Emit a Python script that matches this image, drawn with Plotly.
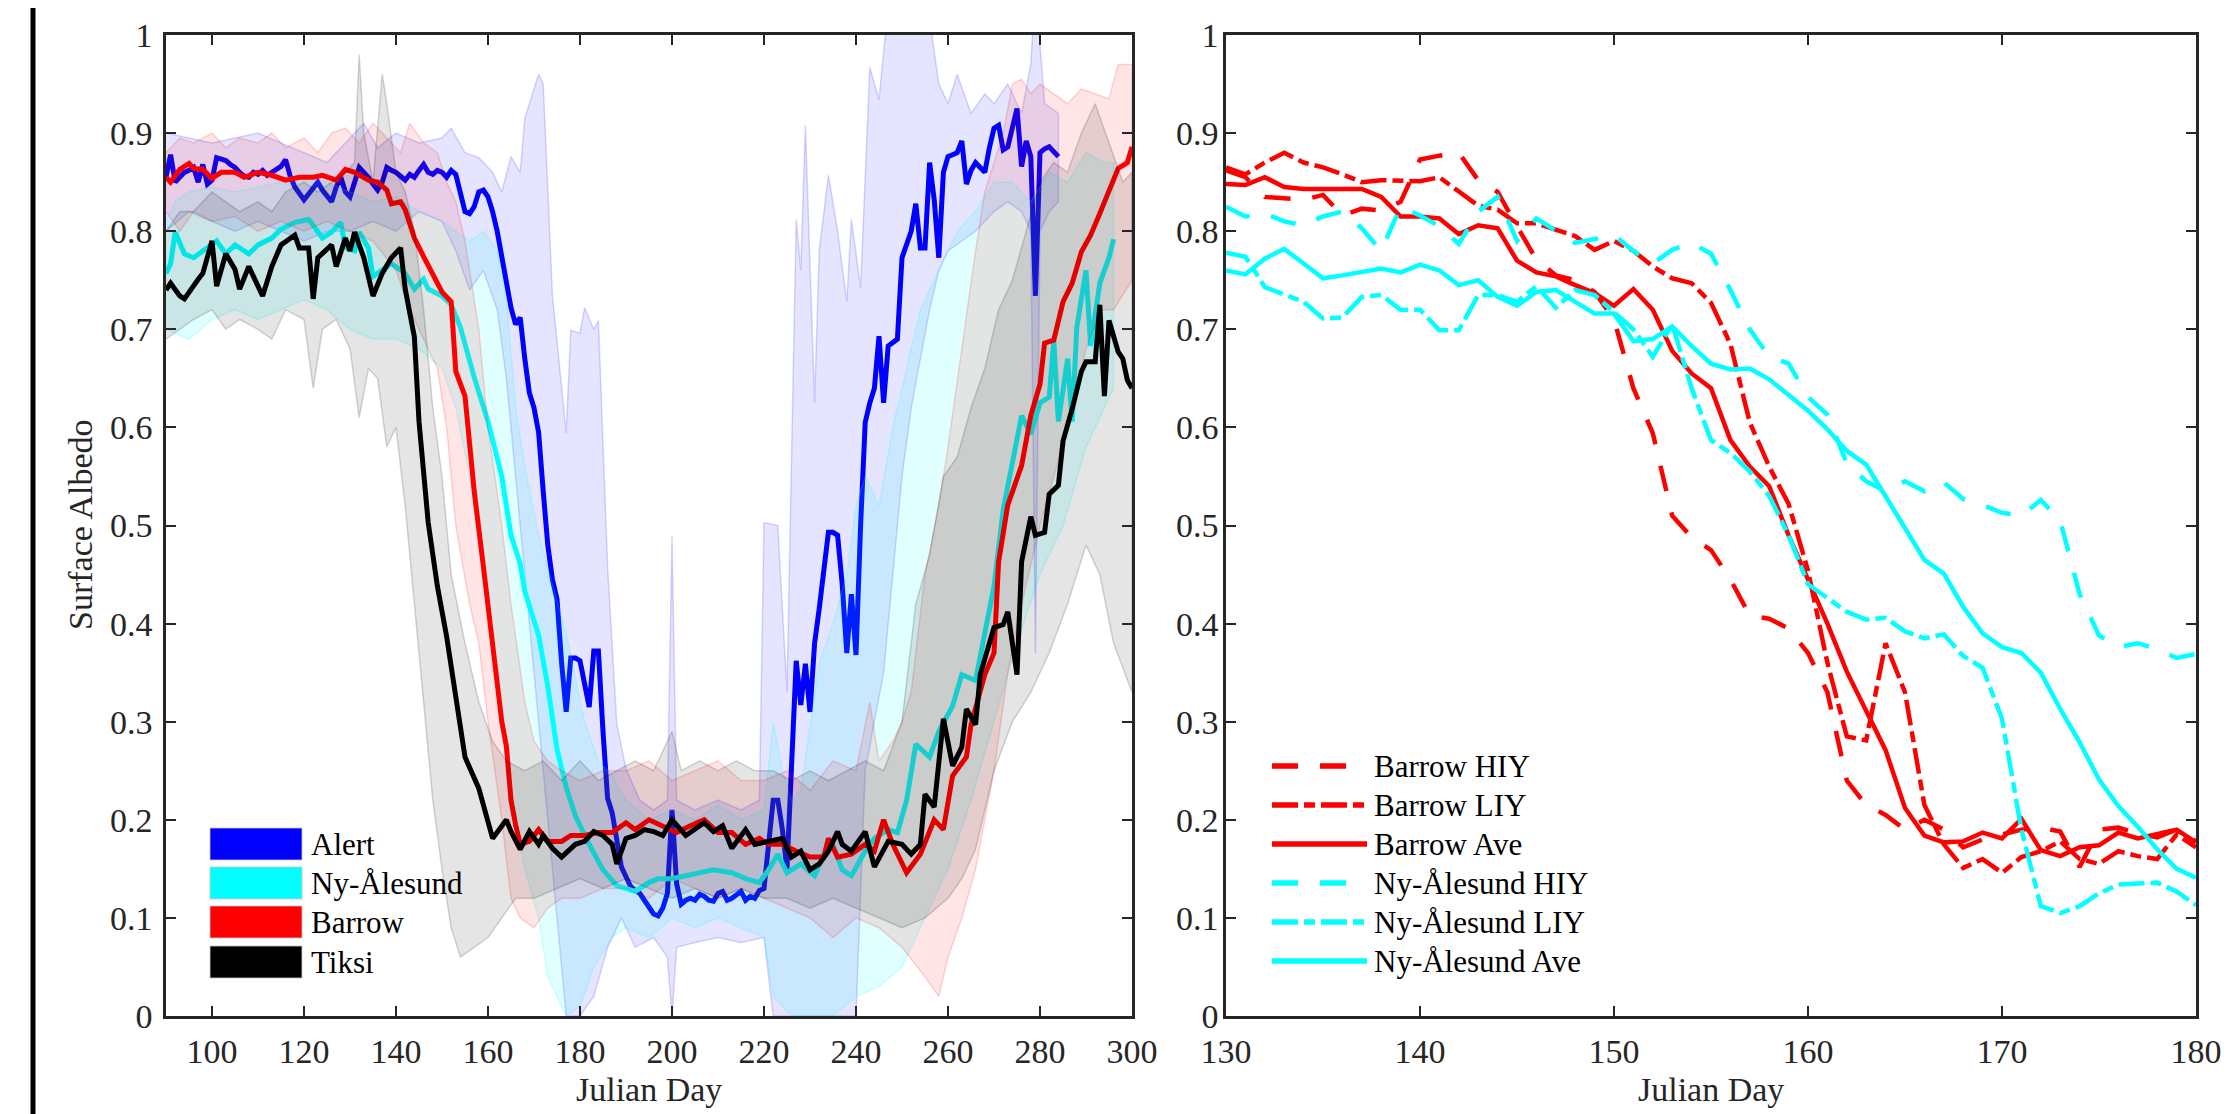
import plotly.graph_objects as go

# ---------------- LEFT PANEL DATA ----------------
alert_day = list(range(90, 285))
alert_mean = [
    0.855, 0.878, 0.850, 0.855, 0.860, 0.862, 0.865, 0.850, 0.868, 0.848,
    0.852, 0.875, 0.874, 0.872, 0.868, 0.865, 0.860, 0.856, 0.855, 0.860,
    0.858, 0.862, 0.857, 0.860, 0.862, 0.866, 0.873, 0.856, 0.845, 0.838,
    0.832, 0.838, 0.845, 0.850, 0.842, 0.835, 0.830, 0.845, 0.855, 0.840,
    0.835, 0.850, 0.865, 0.860, 0.855, 0.848, 0.842, 0.850, 0.865, 0.862,
    0.860, 0.856, 0.852, 0.858, 0.855, 0.862, 0.868, 0.860, 0.858, 0.862,
    0.860, 0.855, 0.862, 0.858, 0.838, 0.820, 0.818, 0.825, 0.840, 0.842,
    0.835, 0.820, 0.800, 0.775, 0.745, 0.722, 0.705, 0.712, 0.670, 0.635,
    0.620, 0.595, 0.535, 0.480, 0.445, 0.425, 0.360, 0.310, 0.365, 0.365,
    0.362, 0.340, 0.315, 0.372, 0.372, 0.290, 0.222, 0.207, 0.180, 0.152,
    0.142, 0.132, 0.128, 0.125, 0.118, 0.112, 0.104, 0.102, 0.110, 0.125,
    0.210, 0.135, 0.114, 0.118, 0.120, 0.118, 0.124, 0.122, 0.118, 0.117,
    0.125, 0.127, 0.118, 0.120, 0.124, 0.127, 0.118, 0.122, 0.120, 0.128,
    0.130, 0.180, 0.220, 0.220, 0.190, 0.150, 0.250, 0.362, 0.317, 0.359,
    0.310, 0.380, 0.415, 0.450, 0.493, 0.493, 0.490, 0.440, 0.370, 0.430,
    0.368, 0.500, 0.605, 0.625, 0.640, 0.693, 0.625, 0.683, 0.686, 0.690,
    0.773, 0.786, 0.800, 0.828, 0.783, 0.783, 0.870, 0.832, 0.773, 0.860,
    0.876, 0.878, 0.880, 0.892, 0.848, 0.862, 0.870, 0.865, 0.860, 0.885,
    0.905, 0.908, 0.883, 0.886, 0.905, 0.925, 0.866, 0.892, 0.876, 0.734,
    0.880, 0.884, 0.886, 0.880, 0.876,
]
alert_hi_day = [90, 95, 100, 105, 110, 115, 120, 125, 130, 133, 136, 140, 145, 150, 152, 155, 158,
                161, 163, 165, 167, 168, 171, 172, 174, 177, 178, 180, 181, 183, 184, 186, 188,
                190, 193, 196, 199, 200, 201, 205, 210, 215, 219, 220, 223, 225, 227, 228, 229,
                231, 232, 234, 236, 238, 239, 241, 243, 245, 247, 250, 255, 258, 260, 262, 265,
                268, 270, 273, 276, 278, 279, 281, 284]
alert_hi = [0.90, 0.895, 0.89, 0.895, 0.90, 0.89, 0.88, 0.87, 0.895, 0.91, 0.885, 0.90, 0.89, 0.895,
            0.905, 0.88, 0.875, 0.86, 0.84, 0.876, 0.86, 0.915, 0.96, 0.95, 0.735, 0.594, 0.699,
            0.696, 0.722, 0.70, 0.709, 0.458, 0.297, 0.252, 0.22, 0.21, 0.22, 0.49, 0.22, 0.21,
            0.22, 0.21, 0.22, 0.503, 0.50, 0.33, 0.812, 0.76, 0.908, 0.625, 0.78, 0.857, 0.80,
            0.728, 0.812, 0.742, 0.967, 0.934, 1.03, 1.05, 1.05, 0.95, 0.93, 0.96, 0.92, 0.94,
            0.93, 0.95, 0.92, 0.97, 1.05, 0.93, 0.92]
alert_lo_day = [90, 95, 100, 105, 110, 115, 120, 125, 130, 135, 140, 145, 150, 153, 156, 159, 162,
                164, 166, 168, 170, 172, 174, 176, 177, 180, 183, 186, 189, 192, 196, 199, 200,
                201, 205, 210, 215, 220, 222, 240, 242, 244, 246, 248, 250, 252, 254, 256, 258,
                260, 263, 266, 270, 273, 276, 278, 279, 280, 282, 284]
alert_lo = [0.80, 0.82, 0.81, 0.80, 0.81, 0.80, 0.79, 0.80, 0.80, 0.81, 0.80, 0.82, 0.81, 0.78,
            0.74, 0.76, 0.72, 0.65, 0.55, 0.45, 0.35, 0.25, 0.15, 0.05, 0.0, 0.0, 0.02, 0.07,
            0.10, 0.07, 0.08, 0.06, 0.0, 0.07, 0.075, 0.08, 0.075, 0.08, 0.0, 0.0, 0.25, 0.30,
            0.35, 0.45, 0.55, 0.62, 0.67, 0.72, 0.76, 0.78, 0.79, 0.80, 0.82, 0.83, 0.82, 0.80,
            0.37, 0.80, 0.82, 0.83]

nya_day = [90, 91, 92, 94, 96, 98, 101, 103, 105, 108, 110, 113, 115, 118, 121, 122, 124, 126,
           128, 129, 131, 132, 134, 135, 137, 139, 142, 144, 146, 147, 150, 152, 154, 157, 160,
           163, 165, 167, 168, 171, 173, 175, 177, 179, 182, 185, 188, 190, 192, 195, 197, 200,
           203, 206, 209, 213, 216, 219, 221, 223, 225, 228, 231, 233, 235, 237, 239, 242, 244,
           247, 249, 251, 253, 256, 258, 261, 263, 266, 268, 270, 272, 274, 276, 278, 280, 282,
           283, 284, 286, 287, 288, 290, 291, 293, 295, 296]
nya_mean = [0.757, 0.767, 0.799, 0.777, 0.773, 0.780, 0.790, 0.777, 0.786, 0.777, 0.786, 0.793,
            0.802, 0.809, 0.812, 0.806, 0.793, 0.799, 0.809, 0.783, 0.780, 0.799, 0.783, 0.754,
            0.761, 0.767, 0.757, 0.741, 0.751, 0.741, 0.734, 0.725, 0.702, 0.651, 0.606, 0.550,
            0.490, 0.461, 0.433, 0.388, 0.336, 0.272, 0.233, 0.204, 0.175, 0.149, 0.133, 0.130,
            0.127, 0.136, 0.140, 0.140, 0.143, 0.146, 0.149, 0.146, 0.140, 0.136, 0.149, 0.165,
            0.146, 0.155, 0.143, 0.165, 0.175, 0.149, 0.143, 0.168, 0.181, 0.190, 0.187, 0.220,
            0.277, 0.264, 0.290, 0.316, 0.348, 0.342, 0.393, 0.438, 0.516, 0.567, 0.612, 0.593,
            0.625, 0.631, 0.689, 0.606, 0.670, 0.606, 0.702, 0.760, 0.683, 0.747, 0.773, 0.792]
nya_hi_day = [90, 92, 95, 100, 105, 110, 115, 120, 125, 130, 135, 140, 145, 150, 153, 156, 159,
              162, 164, 166, 168, 171, 174, 177, 181, 184, 187, 190, 195, 200, 205, 210, 215, 220,
              222, 224, 226, 228, 232, 235, 238, 240, 242, 245, 248, 251, 254, 258, 262, 266, 270,
              274, 278, 282, 286, 290, 294, 296]
nya_hi = [0.81, 0.83, 0.84, 0.845, 0.84, 0.845, 0.85, 0.855, 0.85, 0.84, 0.83, 0.835, 0.82, 0.81,
          0.80, 0.79, 0.80, 0.78, 0.73, 0.62, 0.56, 0.49, 0.44, 0.39, 0.30, 0.26, 0.245, 0.22,
          0.20, 0.21, 0.20, 0.215, 0.20, 0.21, 0.30, 0.25, 0.22, 0.23, 0.36, 0.40, 0.45, 0.52,
          0.55, 0.52, 0.60, 0.66, 0.72, 0.76, 0.80, 0.82, 0.85, 0.85, 0.83, 0.86, 0.85, 0.88,
          0.87, 0.87]
nya_lo_day = [90, 95, 100, 105, 110, 115, 120, 125, 130, 135, 140, 145, 150, 153, 156, 159, 162,
              165, 168, 171, 173, 177, 180, 183, 187, 190, 195, 200, 205, 210, 215, 220, 222, 226,
              235, 240, 245, 250, 255, 260, 265, 270, 275, 280, 285, 290, 294, 296]
nya_lo = [0.70, 0.69, 0.71, 0.72, 0.71, 0.72, 0.73, 0.72, 0.70, 0.69, 0.69, 0.68, 0.66, 0.62, 0.55,
          0.45, 0.33, 0.22, 0.15, 0.10, 0.04, 0.0, 0.01, 0.05, 0.08, 0.09, 0.08, 0.10, 0.09, 0.10,
          0.09, 0.08, 0.02, 0.0, 0.0, 0.02, 0.03, 0.05, 0.10, 0.15, 0.22, 0.30, 0.38, 0.45, 0.50,
          0.58, 0.62, 0.64]

brw_day = [90, 91, 93, 95, 96, 98, 100, 102, 105, 107, 110, 113, 116, 119, 122, 124, 127, 129,
           131, 134, 136, 138, 139, 141, 142, 144, 146, 148, 150, 152, 153, 155, 157, 159, 161,
           163, 164, 165, 166, 167, 169, 171, 173, 176, 178, 181, 184, 187, 190, 192, 195, 198,
           201, 204, 207, 210, 213, 216, 219, 221, 224, 227, 230, 233, 234, 236, 239, 242, 244,
           246, 248, 251, 254, 257, 259, 261, 264, 265, 268, 270, 271, 273, 276, 278, 280, 281,
           283, 285, 287, 289, 291, 293, 295, 297, 299, 300]
brw_mean = [0.855, 0.850, 0.863, 0.869, 0.864, 0.863, 0.854, 0.860, 0.860, 0.855, 0.860, 0.857,
            0.852, 0.855, 0.855, 0.857, 0.852, 0.863, 0.860, 0.852, 0.850, 0.842, 0.828, 0.830,
            0.822, 0.793, 0.774, 0.757, 0.738, 0.728, 0.657, 0.632, 0.535, 0.458, 0.375, 0.300,
            0.275, 0.220, 0.195, 0.175, 0.178, 0.190, 0.178, 0.178, 0.184, 0.184, 0.187, 0.187,
            0.197, 0.190, 0.200, 0.194, 0.187, 0.194, 0.200, 0.187, 0.187, 0.175, 0.181, 0.175,
            0.175, 0.168, 0.162, 0.162, 0.181, 0.162, 0.165, 0.175, 0.168, 0.200, 0.175, 0.146,
            0.165, 0.200, 0.190, 0.245, 0.264, 0.297, 0.348, 0.370, 0.463, 0.521, 0.561, 0.612,
            0.644, 0.686, 0.689, 0.728, 0.747, 0.779, 0.796, 0.818, 0.841, 0.864, 0.870, 0.886]
brw_hi_day = [90, 93, 96, 100, 103, 106, 110, 113, 116, 120, 123, 126, 129, 132, 135, 138, 141,
              143, 146, 149, 151, 153, 155, 158, 160, 163, 165, 168, 170, 173, 176, 180, 185, 190,
              195, 200, 205, 210, 215, 220, 225, 230, 235, 240, 243, 245, 248, 250, 252, 255, 258,
              260, 263, 266, 268, 270, 272, 274, 276, 278, 280, 283, 286, 289, 292, 295, 297, 300]
brw_hi = [0.88, 0.895, 0.89, 0.90, 0.885, 0.895, 0.89, 0.90, 0.885, 0.895, 0.88, 0.90, 0.905,
          0.89, 0.91, 0.895, 0.88, 0.91, 0.89, 0.88, 0.85, 0.83, 0.79, 0.70, 0.60, 0.50, 0.42,
          0.32, 0.28, 0.26, 0.25, 0.24, 0.25, 0.25, 0.26, 0.24, 0.25, 0.26, 0.24, 0.24, 0.25,
          0.23, 0.26, 0.25, 0.32, 0.26, 0.28, 0.30, 0.33, 0.45, 0.52, 0.58, 0.68, 0.78, 0.84,
          0.87, 0.90, 0.95, 0.955, 0.94, 0.95, 0.94, 0.93, 0.945, 0.94, 0.935, 0.97, 0.97]
brw_lo_day = [90, 93, 96, 100, 105, 110, 115, 120, 125, 130, 135, 140, 143, 146, 149, 151, 153,
              156, 158, 160, 163, 165, 167, 170, 173, 176, 180, 185, 190, 195, 200, 205, 210, 215,
              220, 225, 230, 235, 240, 245, 250, 255, 258, 260, 263, 266, 270, 273, 276, 280, 283,
              286, 290, 293, 296, 300]
brw_lo = [0.82, 0.80, 0.82, 0.81, 0.815, 0.80, 0.81, 0.80, 0.81, 0.80, 0.79, 0.76, 0.72, 0.69,
          0.66, 0.60, 0.50, 0.42, 0.38, 0.30, 0.20, 0.12, 0.10, 0.09, 0.11, 0.12, 0.12, 0.13,
          0.13, 0.12, 0.14, 0.13, 0.12, 0.13, 0.12, 0.11, 0.10, 0.08, 0.10, 0.09, 0.07, 0.04,
          0.02, 0.06, 0.10, 0.15, 0.25, 0.35, 0.42, 0.50, 0.55, 0.60, 0.68, 0.72, 0.72, 0.75]

tik_day = [90, 91, 93, 94, 97, 98, 100, 101, 103, 105, 106, 108, 110, 111, 113, 115, 118, 119,
           121, 122, 123, 126, 127, 129, 130, 131, 133, 135, 137, 139, 141, 142, 144, 145, 147,
           149, 151, 153, 155, 158, 160, 161, 164, 165, 167, 169, 171, 172, 174, 176, 179, 181,
           183, 185, 187, 188, 190, 192, 194, 196, 198, 200, 203, 205, 207, 209, 211, 213, 216,
           218, 221, 224, 226, 228, 230, 232, 234, 236, 237, 239, 242, 244, 247, 250, 252, 254,
           255, 257, 259, 261, 263, 264, 266, 267, 268, 270, 272, 273, 275, 276, 278, 279, 281,
           282, 284, 285, 287, 289, 290, 292, 293, 294, 295, 297, 298, 299, 300]
tik_mean = [0.740, 0.747, 0.734, 0.731, 0.751, 0.757, 0.790, 0.744, 0.777, 0.761, 0.741, 0.764,
            0.744, 0.734, 0.764, 0.786, 0.796, 0.783, 0.783, 0.731, 0.773, 0.786, 0.764, 0.793,
            0.780, 0.799, 0.773, 0.734, 0.757, 0.773, 0.783, 0.741, 0.692, 0.606, 0.503, 0.438,
            0.387, 0.329, 0.264, 0.232, 0.200, 0.181, 0.200, 0.188, 0.170, 0.188, 0.175, 0.184,
            0.171, 0.162, 0.175, 0.178, 0.188, 0.184, 0.175, 0.155, 0.181, 0.184, 0.190, 0.188,
            0.184, 0.200, 0.184, 0.190, 0.197, 0.188, 0.194, 0.171, 0.190, 0.175, 0.178, 0.181,
            0.162, 0.168, 0.149, 0.155, 0.168, 0.188, 0.175, 0.168, 0.188, 0.152, 0.178, 0.175,
            0.165, 0.175, 0.226, 0.213, 0.303, 0.255, 0.274, 0.313, 0.297, 0.348, 0.364, 0.396,
            0.399, 0.412, 0.348, 0.463, 0.509, 0.490, 0.493, 0.532, 0.541, 0.586, 0.619, 0.657,
            0.667, 0.667, 0.725, 0.632, 0.709, 0.677, 0.670, 0.648, 0.640]
tik_hi_day = [90, 93, 96, 100, 103, 106, 110, 113, 116, 120, 123, 126, 129, 131, 132, 133, 135,
              137, 138, 140, 142, 144, 146, 148, 150, 152, 155, 158, 161, 164, 168, 172, 176, 180,
              184, 188, 192, 196, 200, 202, 206, 210, 214, 218, 222, 226, 230, 234, 238, 242, 246,
              250, 253, 256, 259, 262, 265, 268, 271, 274, 277, 280, 283, 286, 289, 292, 295, 298,
              300]
tik_hi = [0.80, 0.82, 0.82, 0.84, 0.83, 0.82, 0.83, 0.82, 0.84, 0.85, 0.84, 0.85, 0.86, 0.87,
          0.98, 0.90, 0.85, 0.96, 0.93, 0.86, 0.84, 0.80, 0.72, 0.62, 0.55, 0.45, 0.38, 0.32,
          0.28, 0.26, 0.25, 0.26, 0.24, 0.26, 0.24, 0.25, 0.26, 0.25, 0.29, 0.25, 0.26, 0.25,
          0.26, 0.25, 0.25, 0.24, 0.25, 0.24, 0.25, 0.26, 0.25, 0.30, 0.42, 0.47, 0.55, 0.57,
          0.62, 0.66, 0.72, 0.75, 0.80, 0.85, 0.87, 0.86, 0.90, 0.93, 0.89, 0.85, 0.86]
tik_lo_day = [90, 93, 96, 100, 103, 106, 110, 113, 116, 120, 122, 124, 127, 130, 132, 134, 136,
              138, 140, 142, 144, 146, 148, 150, 152, 154, 157, 160, 163, 166, 170, 175, 180, 185,
              190, 195, 200, 205, 210, 215, 220, 225, 230, 235, 240, 245, 250, 255, 260, 263, 266,
              270, 274, 278, 282, 286, 290, 293, 296, 300]
tik_lo = [0.69, 0.70, 0.71, 0.72, 0.70, 0.71, 0.70, 0.69, 0.72, 0.71, 0.64, 0.70, 0.71, 0.68,
          0.61, 0.66, 0.65, 0.58, 0.60, 0.52, 0.42, 0.32, 0.22, 0.15, 0.09, 0.06, 0.07, 0.08,
          0.10, 0.12, 0.12, 0.13, 0.14, 0.13, 0.14, 0.13, 0.12, 0.13, 0.12, 0.13, 0.12, 0.12,
          0.11, 0.12, 0.11, 0.10, 0.09, 0.10, 0.12, 0.14, 0.17, 0.25, 0.30, 0.33, 0.37, 0.42,
          0.48, 0.45, 0.38, 0.33]

# ---------------- RIGHT PANEL DATA ----------------
r_day = list(range(130, 181))
brw_hiy = [0.862, 0.855, 0.835, 0.833, 0.832, 0.837, 0.816, 0.823, 0.821, 0.830,
           0.873, 0.877, 0.880, 0.852, 0.840, 0.805, 0.771, 0.755, 0.750, 0.738,
           0.710, 0.640, 0.594, 0.510, 0.488, 0.475, 0.445, 0.408, 0.405, 0.395,
           0.370, 0.330, 0.240, 0.215, 0.205, 0.190, 0.200, 0.190, 0.172, 0.180,
           0.185, 0.190, 0.192, 0.188, 0.152, 0.190, 0.192, 0.186, 0.182, 0.190,
           0.178]
brw_liy = [0.865, 0.858, 0.870, 0.880, 0.870, 0.865, 0.858, 0.850, 0.852, 0.851,
           0.851, 0.855, 0.840, 0.826, 0.822, 0.808, 0.808, 0.802, 0.795, 0.781,
           0.790, 0.780, 0.764, 0.752, 0.747, 0.727, 0.685, 0.605, 0.560, 0.522,
           0.454, 0.360, 0.285, 0.281, 0.380, 0.330, 0.215, 0.175, 0.151, 0.160,
           0.146, 0.162, 0.168, 0.178, 0.160, 0.155, 0.168, 0.163, 0.160, 0.185,
           0.172]
brw_ave = [0.848, 0.847, 0.855, 0.845, 0.843, 0.843, 0.843, 0.843, 0.835, 0.815,
           0.815, 0.813, 0.797, 0.806, 0.803, 0.770, 0.758, 0.754, 0.745, 0.737,
           0.724, 0.741, 0.720, 0.678, 0.655, 0.640, 0.587, 0.560, 0.540, 0.490,
           0.445, 0.400, 0.351, 0.310, 0.271, 0.212, 0.184, 0.177, 0.178, 0.187,
           0.181, 0.201, 0.169, 0.163, 0.172, 0.174, 0.187, 0.181, 0.186, 0.190,
           0.177]
nya_hiy = [0.825, 0.815, 0.818, 0.810, 0.806, 0.815, 0.820, 0.803, 0.780, 0.825,
           0.816, 0.805, 0.787, 0.820, 0.835, 0.790, 0.813, 0.800, 0.788, 0.792,
           0.796, 0.780, 0.767, 0.781, 0.788, 0.777, 0.740, 0.700, 0.672, 0.665,
           0.631, 0.613, 0.563, 0.545, 0.535, 0.545, 0.535, 0.544, 0.527, 0.521,
           0.513, 0.510, 0.526, 0.505, 0.430, 0.388, 0.376, 0.380, 0.374, 0.365,
           0.369]
nya_liy = [0.778, 0.774, 0.743, 0.735, 0.728, 0.711, 0.712, 0.733, 0.735, 0.720,
           0.720, 0.699, 0.699, 0.735, 0.735, 0.728, 0.744, 0.722, 0.740, 0.735,
           0.718, 0.700, 0.672, 0.705, 0.640, 0.587, 0.574, 0.555, 0.530, 0.490,
           0.440, 0.426, 0.412, 0.404, 0.406, 0.392, 0.385, 0.389, 0.367, 0.355,
           0.303, 0.190, 0.112, 0.105, 0.112, 0.125, 0.134, 0.135, 0.136, 0.127,
           0.113]
nya_ave = [0.760, 0.756, 0.772, 0.782, 0.767, 0.752, 0.755, 0.758, 0.762, 0.758,
           0.766, 0.760, 0.745, 0.750, 0.733, 0.724, 0.738, 0.740, 0.728, 0.716,
           0.716, 0.688, 0.690, 0.703, 0.683, 0.665, 0.659, 0.660, 0.649, 0.633,
           0.617, 0.598, 0.576, 0.562, 0.530, 0.497, 0.465, 0.451, 0.417, 0.390,
           0.376, 0.370, 0.350, 0.313, 0.279, 0.241, 0.214, 0.193, 0.170, 0.150,
           0.141]

left_legend_labels = ["Alert", "Ny-Ålesund", "Barrow", "Tiksi"]
right_legend_labels = ["Barrow HIY", "Barrow LIY", "Barrow Ave",
                       "Ny-Ålesund HIY", "Ny-Ålesund LIY", "Ny-Ålesund Ave"]
left_xticks = list(range(100, 301, 20))
right_xticks = list(range(130, 181, 10))

# ---------------- STYLE ----------------
W, H = 2233, 1114
OFF = 8  # page body margin: figure is drawn 8px in from the page corner
FONT = "Liberation Serif"
AX = "#262626"
DASH = "26px,22px"
DASHDOT = "26px,6px,11px,6px"


def fx(p):
    return (p - OFF) / W


def fy(p):
    return 1 - (p - OFF) / H


fig = go.Figure()

stations = [
    (alert_day, alert_mean, alert_hi_day, alert_hi, alert_lo_day, alert_lo, "0,0,255", 0.10, "#0000FF"),
    (nya_day, nya_mean, nya_hi_day, nya_hi, nya_lo_day, nya_lo, "0,255,255", 0.12, "#00FFFF"),
    (brw_day, brw_mean, brw_hi_day, brw_hi, brw_lo_day, brw_lo, "255,0,0", 0.10, "#FF0000"),
    (tik_day, tik_mean, tik_hi_day, tik_hi, tik_lo_day, tik_lo, "0,0,0", 0.10, "#000000"),
]
for d, m, hd, hv, ld, lv, rgb, a, col in stations:
    fig.add_trace(go.Scatter(
        x=hd + ld[::-1], y=hv + lv[::-1], mode="lines", fill="toself",
        fillcolor=f"rgba({rgb},{a})", line=dict(color=f"rgba({rgb},{a + 0.06})", width=1.5),
        hoverinfo="skip", showlegend=False, xaxis="x", yaxis="y"))
    fig.add_trace(go.Scatter(
        x=d, y=m, mode="lines", line=dict(color=col, width=5),
        showlegend=False, xaxis="x", yaxis="y"))

right_series = [
    (brw_hiy, "#FF0000", DASH),
    (brw_liy, "#FF0000", DASHDOT),
    (brw_ave, "#FF0000", "solid"),
    (nya_hiy, "#00FFFF", DASH),
    (nya_liy, "#00FFFF", DASHDOT),
    (nya_ave, "#00FFFF", "solid"),
]
for vals, col, dash in right_series:
    fig.add_trace(go.Scatter(
        x=r_day, y=vals, mode="lines", line=dict(color=col, width=4.5, dash=dash),
        showlegend=False, xaxis="x2", yaxis="y2"))

# plot areas (page px): left 166-1132, right 1226-2196, top 35, bottom 1016
ydom = [fy(1016), fy(35)]
axis_common = dict(showline=True, linecolor=AX, linewidth=2.5, mirror="ticks",
                   ticks="inside", ticklen=10, tickwidth=2, tickcolor=AX,
                   showgrid=False, zeroline=False, automargin=False,
                   tickfont=dict(family=FONT, size=34, color=AX))
fig.update_layout(
    width=W, height=H, margin=dict(l=0, r=0, t=0, b=0, pad=0, autoexpand=False),
    font=dict(family=FONT, size=31, color="black"),
    paper_bgcolor="white", plot_bgcolor="white", showlegend=False,
    xaxis=dict(domain=[fx(166), fx(1132)], range=[90, 300], tickvals=left_xticks,
               anchor="y", ticklabelstandoff=3, **axis_common),
    yaxis=dict(domain=ydom, range=[0, 1], dtick=0.1, tick0=0, anchor="x",
               ticklabelstandoff=4, **axis_common),
    xaxis2=dict(domain=[fx(1226), fx(2196)], range=[130, 180], tickvals=right_xticks,
                anchor="y2", ticklabelstandoff=3, **axis_common),
    yaxis2=dict(domain=ydom, range=[0, 1], dtick=0.1, tick0=0, anchor="x2",
                ticklabelstandoff=-2, **axis_common),
)

shapes = []
annotations = []
# thick vertical rule at far left
shapes.append(dict(type="line", xref="paper", yref="paper", x0=fx(33), x1=fx(33),
                   y0=-0.05, y1=1.05, line=dict(color="black", width=5)))

# left legend (filled swatches)
left_cols = ["#0000FF", "#00FFFF", "#FF0000", "#000000"]
rows_l = [844, 883, 922, 962]
for lab, col, yc in zip(left_legend_labels, left_cols, rows_l):
    shapes.append(dict(type="rect", xref="paper", yref="paper",
                       x0=fx(210), x1=fx(302), y0=fy(yc + 16), y1=fy(yc - 16),
                       fillcolor=col, line=dict(color="rgba(200,200,200,0.8)", width=1)))
    annotations.append(dict(xref="paper", yref="paper", x=fx(309), y=fy(yc), text=lab,
                            showarrow=False, xanchor="left", yanchor="middle",
                            font=dict(family=FONT, size=31, color="black")))

# right legend (line samples)
rows_r = [766, 805, 844, 883, 922, 961]
for lab, (vals, col, dash), yc in zip(right_legend_labels, right_series, rows_r):
    shapes.append(dict(type="line", xref="paper", yref="paper",
                       x0=fx(1272), x1=fx(1367), y0=fy(yc), y1=fy(yc),
                       line=dict(color=col, width=5.5, dash=dash)))
    annotations.append(dict(xref="paper", yref="paper", x=fx(1372), y=fy(yc), text=lab,
                            showarrow=False, xanchor="left", yanchor="middle",
                            font=dict(family=FONT, size=31, color="black")))

# axis titles
annotations.append(dict(xref="paper", yref="paper", x=fx(649), y=fy(1089), text="Julian Day",
                        showarrow=False, xanchor="center", yanchor="middle",
                        font=dict(family=FONT, size=34, color=AX)))
annotations.append(dict(xref="paper", yref="paper", x=fx(1711), y=fy(1089), text="Julian Day",
                        showarrow=False, xanchor="center", yanchor="middle",
                        font=dict(family=FONT, size=34, color=AX)))
annotations.append(dict(xref="paper", yref="paper", x=fx(80), y=fy(525), text="Surface Albedo",
                        showarrow=False, xanchor="center", yanchor="middle", textangle=-90,
                        font=dict(family=FONT, size=34, color=AX)))

fig.update_layout(shapes=shapes, annotations=annotations)
fig.write_html("out.html")
